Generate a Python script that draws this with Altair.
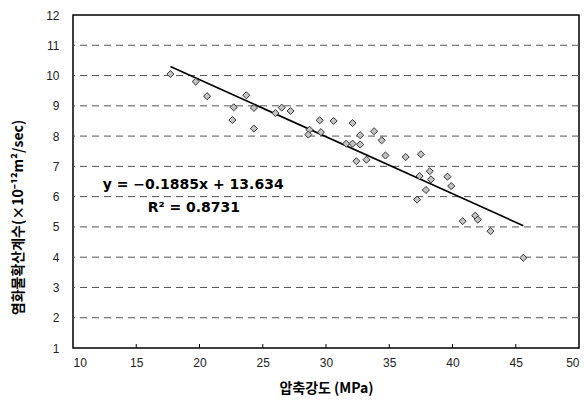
import altair as alt
import pandas as pd

# Compressive strength (MPa) vs. chloride diffusion coefficient (x10^-12 m^2/sec)
strength = [17.7, 19.7, 20.6, 23.7, 22.7, 24.3, 22.6, 24.3,
            26.0, 26.5, 27.2, 28.7, 28.6, 29.5, 29.6, 30.6,
            32.1, 31.6, 32.1, 32.7, 32.7, 32.4, 33.2, 33.8,
            34.4, 34.7, 36.3, 37.5, 37.4, 38.2, 38.3, 37.9,
            37.2, 39.6, 39.9, 40.8, 41.8, 42.0, 43.0, 45.6]
diffusion = [10.05, 9.80, 9.32, 9.35, 8.95, 8.93, 8.53, 8.25,
             8.76, 8.94, 8.83, 8.21, 8.05, 8.52, 8.13, 8.50,
             8.43, 7.75, 7.75, 8.03, 7.72, 7.17, 7.22, 8.16,
             7.86, 7.36, 7.31, 7.40, 6.68, 6.84, 6.57, 6.22,
             5.90, 6.66, 6.35, 5.19, 5.37, 5.24, 4.86, 3.98]

# Linear trend line as reported
slope = -0.1885
intercept = 13.634
r_squared = 0.8731

x_ticks = [10, 15, 20, 25, 30, 35, 40, 45, 50]
y_ticks = list(range(1, 13))

W, H = 506, 333

points = pd.DataFrame({"strength": strength, "diffusion": diffusion})
x_lo, x_hi = min(strength), max(strength)
trend = pd.DataFrame({
    "strength": [x_lo, x_hi],
    "diffusion": [slope * x_lo + intercept, slope * x_hi + intercept],
})
labels = pd.DataFrame({
    "strength": [12.35, 15.9],
    "diffusion": [6.37, 5.63],
    "text": [f"y = \u22120.1885x + {intercept}", f"R\u00b2 = {r_squared}"],
})
grid = pd.DataFrame({"level": list(range(2, 12))})
xt = pd.DataFrame({"tick": x_ticks[1:-1]})

x_scale = alt.Scale(domain=[10, 50], nice=False, zero=False)
y_scale = alt.Scale(domain=[1, 12], nice=False, zero=False)

x_axis = alt.Axis(
    values=x_ticks, grid=False, ticks=False, domain=False, labelOverlap=False,
    labelFont="Liberation Sans", labelFontSize=12, labelColor="#222",
    labelPadding=9, title="압축강도  (MPa)",
    titleFont="Noto Sans CJK KR", titleFontSize=14, titleFontWeight="bold",
    titleColor="#000", titlePadding=13,
)
y_axis = alt.Axis(
    values=y_ticks, grid=False, ticks=False, domain=False, labelOverlap=False,
    labelFont="Liberation Sans", labelFontSize=12, labelColor="#222",
    labelPadding=14, title="염화물확산계수(×10⁻¹²m²/sec)",
    titleFont="Noto Sans CJK KR", titleFontSize=14, titleFontWeight="bold",
    titleColor="#000", titleAngle=270, titleAlign="center",
    titleBaseline="bottom", titleX=-48, titleY=202,
)


def xenc(field):
    return alt.X(f"{field}:Q", scale=x_scale, axis=x_axis)


def yenc(field):
    return alt.Y(f"{field}:Q", scale=y_scale, axis=y_axis)


gridlines = alt.Chart(grid).mark_rule(
    color="#555", strokeWidth=1, strokeDash=[7, 5]
).encode(
    y=yenc("level"),
)

xtick_marks = alt.Chart(xt).mark_rule(color="#000", strokeWidth=1).encode(
    x=xenc("tick"),
    y=alt.value(H),
    y2=alt.value(H - 4),
)

line = alt.Chart(trend).mark_line(color="#000", strokeWidth=1.6).encode(
    x=xenc("strength"),
    y=yenc("diffusion"),
)

scatter = alt.Chart(points).mark_point(
    shape="diamond", filled=True, fill="#c4c4c4", stroke="#333",
    strokeWidth=1, size=50, opacity=1,
).encode(
    x=xenc("strength"),
    y=yenc("diffusion"),
)

text = alt.Chart(labels).mark_text(
    align="left", baseline="middle", font="DejaVu Sans",
    fontSize=14, fontWeight="bold", color="#000",
).encode(
    x=xenc("strength"),
    y=yenc("diffusion"),
    text="text:N",
)

chart = alt.layer(gridlines, xtick_marks, line, scatter, text).properties(
    width=W, height=H,
    autosize=alt.AutoSizeParams(type="none"),
    padding={"left": 73, "top": 15, "right": 5, "bottom": 53},
    background="#ffffff",
).configure_axis(
    labelOverlap=False,
).configure_view(
    stroke="#000", strokeWidth=1.5,
)

chart.save("out.html", embed_options={"renderer": "svg", "actions": False})
